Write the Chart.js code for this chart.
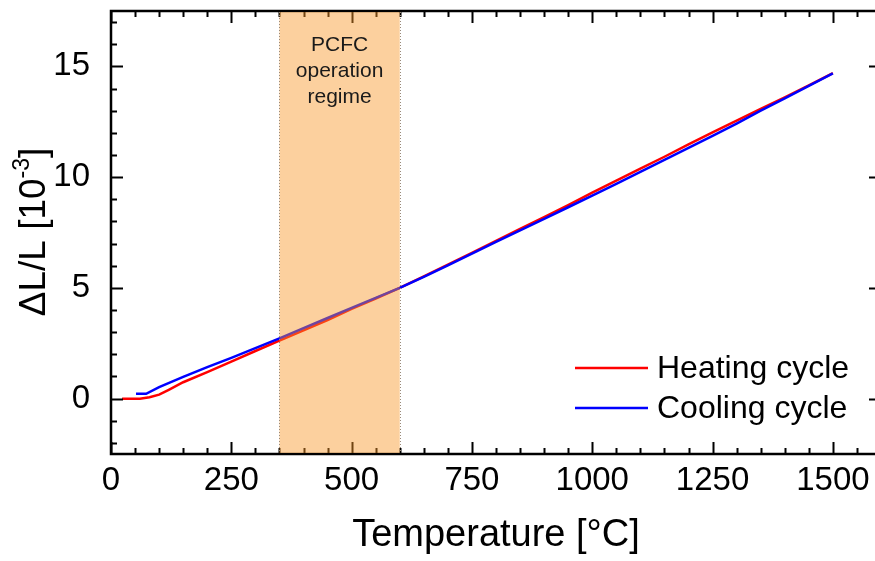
<!DOCTYPE html>
<html>
<head>
<meta charset="utf-8">
<script src="https://cdn.jsdelivr.net/npm/chart.js@4/dist/chart.umd.min.js"></script>
<style>
  html, body { margin: 0; padding: 0; overflow: hidden; background: #fff; }
  canvas { display: block; }
</style>
</head>
<body>
<canvas id="dil-chart" width="900" height="561"></canvas>
<script>
// dilatometry curve
const heatT  = [23, 60, 80, 100, 120, 150, 200, 250, 300, 350, 400, 450, 500, 550, 600, 650, 700, 750, 800, 850, 900, 950, 1000, 1050, 1100, 1150, 1200, 1250, 1300, 1350, 1400, 1450, 1500]
const heatDL = [0.0, 0.0, 0.06, 0.18, 0.4, 0.74, 1.2, 1.67, 2.15, 2.62, 3.08, 3.55, 4.05, 4.52, 5.0, 5.52, 6.05, 6.58, 7.12, 7.66, 8.2, 8.74, 9.3, 9.84, 10.38, 10.92, 11.48, 12.02, 12.55, 13.08, 13.6, 14.14, 14.7]

const coolT  = [52, 73, 100, 150, 200, 250, 300, 350, 400, 450, 500, 550, 600, 650, 700, 750, 800, 850, 900, 950, 1000, 1050, 1100, 1150, 1200, 1250, 1300, 1350, 1400, 1450, 1500]
const coolDL = [0.22, 0.22, 0.52, 0.98, 1.42, 1.84, 2.28, 2.72, 3.18, 3.64, 4.1, 4.55, 5.0, 5.5, 6.02, 6.55, 7.08, 7.6, 8.12, 8.64, 9.16, 9.7, 10.24, 10.78, 11.32, 11.86, 12.42, 13.0, 13.56, 14.12, 14.68]

const xTicks = [0, 250, 500, 750, 1000, 1250, 1500]
const yTicks = [0, 5, 10, 15]
const xMinorStep = 50
const yMinorStep = 1

const regime = [350, 600]
const regimeText = ['PCFC', 'operation', 'regime']

const FONT = "'Liberation Sans', Arial, sans-serif"

const toPoints = (xs, ys) => xs.map((x, i) => ({ x, y: ys[i] }))

// frame, inward ticks, shaded regime, legend, y title
const decorations = {
    id: 'decorations',
    afterDraw: (chart) => {
        const { ctx, chartArea: { left, right, top, bottom }, scales: { x, y } } = chart

        ctx.save()
        ctx.strokeStyle = '#000'
        ctx.lineWidth = 2

        const tickX = (v, len) => {
            const px = Math.round(x.getPixelForValue(v)) + 0.5
            ctx.beginPath()
            ctx.moveTo(px, bottom); ctx.lineTo(px, bottom - len)
            ctx.moveTo(px, top); ctx.lineTo(px, top + len)
            ctx.stroke()
        }
        const tickY = (v, len) => {
            const py = Math.round(y.getPixelForValue(v)) + 0.5
            ctx.beginPath()
            ctx.moveTo(left, py); ctx.lineTo(left + len, py)
            ctx.moveTo(right, py); ctx.lineTo(right - len, py)
            ctx.stroke()
        }
        for (let v = x.min; v <= x.max; v += xMinorStep) {
            xTicks.includes(v) ? tickX(v, 12) : tickX(v, 6)
        }
        for (let v = Math.ceil(y.min); v <= y.max; v += yMinorStep) {
            yTicks.includes(v) ? tickY(v, 12) : tickY(v, 6)
        }

        ctx.lineWidth = 2.5
        ctx.strokeRect(left, top, right - left, bottom - top)

        // shaded operation regime, drawn over the data like the original
        const rx0 = x.getPixelForValue(regime[0])
        const rx1 = x.getPixelForValue(regime[1])
        ctx.fillStyle = 'rgba(248, 150, 40, 0.45)'
        ctx.fillRect(rx0, top + 1, rx1 - rx0, bottom - top - 2)
        ctx.strokeStyle = '#9a8a7a'
        ctx.lineWidth = 1
        ctx.setLineDash([1, 2])
        ;[rx0, rx1].forEach(px => {
            ctx.beginPath()
            ctx.moveTo(Math.round(px) + 0.5, top + 1)
            ctx.lineTo(Math.round(px) + 0.5, bottom - 1)
            ctx.stroke()
        })
        ctx.setLineDash([])

        ctx.fillStyle = '#1a1a1a'
        ctx.font = `21px ${FONT}`
        ctx.textAlign = 'center'
        ctx.textBaseline = 'middle'
        regimeText.forEach((t, i) => ctx.fillText(t, (rx0 + rx1) / 2, 45 + i * 26))

        // legend
        ctx.textAlign = 'left'
        ctx.font = `32px ${FONT}`
        chart.data.datasets.forEach((ds) => {
            const ly = 368 + ds.legendRow * 40
            ctx.strokeStyle = ds.borderColor
            ctx.lineWidth = 2.5
            ctx.beginPath()
            ctx.moveTo(575, ly); ctx.lineTo(648, ly)
            ctx.stroke()
            ctx.fillStyle = '#000'
            ctx.fillText(ds.label, 657, ly + 1)
        })

        // y axis title with superscript
        const big = 37, small = 23
        ctx.font = `${big}px ${FONT}`
        const main = '\u0394L/L [10'
        const wMain = ctx.measureText(main).width
        const wClose = ctx.measureText(']').width
        ctx.font = `${small}px ${FONT}`
        const sup = '-3'
        const wSup = ctx.measureText(sup).width
        const total = wMain + wSup + wClose
        ctx.translate(45, 232 + total / 2)
        ctx.rotate(-Math.PI / 2)
        ctx.fillStyle = '#000'
        ctx.textBaseline = 'alphabetic'
        ctx.font = `${big}px ${FONT}`
        ctx.fillText(main, 0, 0)
        ctx.font = `${small}px ${FONT}`
        ctx.fillText(sup, wMain, -16)
        ctx.font = `${big}px ${FONT}`
        ctx.fillText(']', wMain + wSup, 0)

        ctx.restore()
    }
}

new Chart(document.getElementById('dil-chart'), {
    type: 'scatter',
    data: {
        datasets: [
            {
                label: 'Heating cycle',
                data: toPoints(heatT, heatDL),
                showLine: true,
                borderColor: '#ff0000',
                borderWidth: 2.5,
                pointRadius: 0,
                order: 2,
                legendRow: 0
            },
            {
                label: 'Cooling cycle',
                data: toPoints(coolT, coolDL),
                showLine: true,
                borderColor: '#0000ff',
                borderWidth: 2.5,
                pointRadius: 0,
                order: 1,
                legendRow: 1
            }
        ]
    },
    options: {
        responsive: false,
        animation: false,
        devicePixelRatio: 1,
        layout: { padding: { left: 0, right: 19, top: 11, bottom: 0 } },
        plugins: { legend: { display: false }, tooltip: { enabled: false } },
        scales: {
            x: {
                type: 'linear',
                min: 0,
                max: 1600,
                grid: { display: false, drawTicks: false },
                border: { display: false },
                afterBuildTicks: s => { s.ticks = xTicks.map(value => ({ value })) },
                afterFit: s => { s.height = 107; s.paddingLeft = 0; s.paddingRight = 0 },
                ticks: {
                    color: '#000',
                    font: { family: FONT, size: 33 },
                    padding: 7,
                    maxRotation: 0,
                    autoSkip: false,
                    callback: v => String(v)
                },
                title: {
                    display: true,
                    text: 'Temperature [°C]',
                    color: '#000',
                    font: { family: FONT, size: 38 },
                    padding: { top: 0, bottom: 3 }
                }
            },
            y: {
                type: 'linear',
                min: -2.5,
                max: 17.5,
                grid: { display: false, drawTicks: false },
                border: { display: false },
                afterBuildTicks: s => { s.ticks = yTicks.map(value => ({ value })) },
                afterFit: s => { s.width = 111; s.paddingTop = 0; s.paddingBottom = 0 },
                ticks: {
                    color: '#000',
                    font: { family: FONT, size: 33 },
                    padding: 21,
                    callback: v => String(v)
                }
            }
        }
    },
    plugins: [decorations]
})
</script>
</body>
</html>
